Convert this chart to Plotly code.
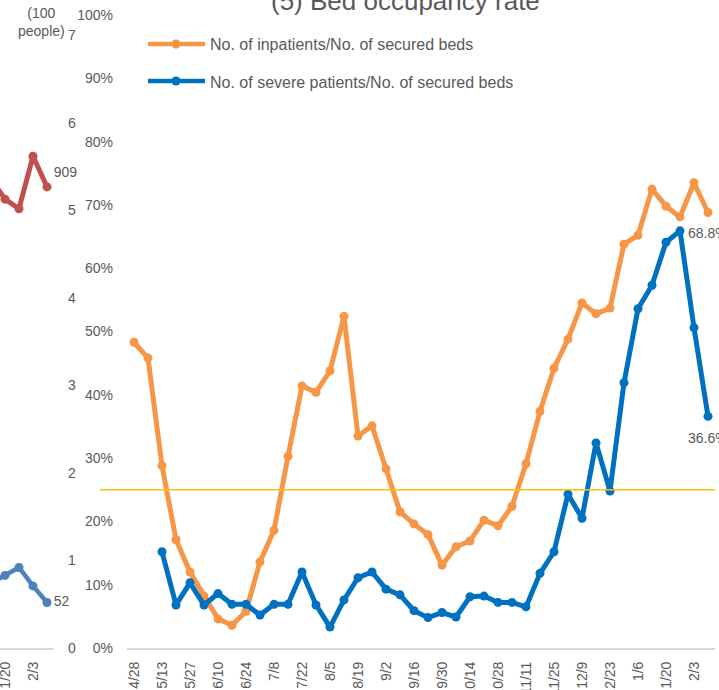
import plotly.graph_objects as go

# ---------------- data ----------------
dates = ["4/28", "5/6", "5/13", "5/20", "5/27", "6/3", "6/10", "6/17", "6/24", "7/1",
         "7/8", "7/15", "7/22", "7/29", "8/5", "8/12", "8/19", "8/26", "9/2", "9/9",
         "9/16", "9/23", "9/30", "10/7", "10/14", "10/21", "10/28", "11/4", "11/11", "11/18",
         "11/25", "12/2", "12/9", "12/16", "12/23", "12/30", "1/6", "1/13", "1/20", "1/27",
         "2/3", "2/10"]

# (5) Bed occupancy rate, %
inpatients_rate = [48.3, 45.8, 28.8, 17.1, 12.0, 8.2, 4.6, 3.6, 5.8, 13.6,
                   18.6, 30.3, 41.4, 40.4, 43.8, 52.4, 33.5, 35.1, 28.3, 21.5,
                   19.6, 17.9, 13.1, 16.0, 16.9, 20.2, 19.3, 22.4, 29.1, 37.4,
                   44.2, 48.8, 54.5, 52.8, 53.7, 63.8, 65.2, 72.5, 69.8, 68.1,
                   73.5, 68.8]
severe_rate = [None, None, 15.2, 6.8, 10.3, 6.8, 8.6, 6.9, 6.9, 5.2,
               6.9, 6.9, 12.0, 6.8, 3.3, 7.6, 11.1, 12.0, 9.3, 8.4,
               5.9, 4.8, 5.6, 4.9, 8.1, 8.2, 7.2, 7.2, 6.5, 11.8,
               15.2, 24.3, 20.5, 32.4, 24.8, 41.9, 53.6, 57.3, 64.1, 65.9,
               50.6, 36.6]
threshold_rate = 25.0

# partial neighbouring chart (100 people) - only the tail is visible
left_red = [None] * 37 + [5.36, 5.13, 5.02, 5.62, 5.27]
left_blue = [None] * 37 + [0.74, 0.83, 0.92, 0.71, 0.52]
left_red_label = "909"
left_blue_label = "52"

y_ticks = list(range(0, 101, 10))
y2_ticks = list(range(0, 8))

legend_names = ["No. of inpatients/No. of secured beds",
                "No. of severe patients/No. of secured beds"]
title_text = "(5) Bed occupancy rate"
unit_text = "(100<br>people)"

# ---------------- style ----------------
W, H = 719, 690
FONT = "Liberation Sans, Arial, sans-serif"
GREY = "#595959"
ORANGE = "#F79646"
BLUE = "#0070C0"
RED = "#C0504D"
SBLUE = "#4F81BD"
AXIS = "#D9D9D9"


def px_x(p):
    return p / W


def px_y(p):
    return 1 - p / H


fig = go.Figure()

fig.add_trace(go.Scatter(
    x=dates, y=inpatients_rate, mode="lines+markers",
    line=dict(color=ORANGE, width=5), marker=dict(color=ORANGE, size=9),
    cliponaxis=False, showlegend=False, xaxis="x", yaxis="y"))

fig.add_trace(go.Scatter(
    x=dates, y=severe_rate, mode="lines+markers",
    line=dict(color=BLUE, width=5), marker=dict(color=BLUE, size=9),
    cliponaxis=False, showlegend=False, xaxis="x", yaxis="y"))

fig.add_trace(go.Scatter(
    x=dates, y=left_red, mode="lines+markers+text",
    line=dict(color=RED, width=5), marker=dict(color=RED, size=9),
    text=[None] * (len(dates) - 1) + [left_red_label], textposition="top right",
    textfont=dict(family=FONT, size=14, color=GREY),
    cliponaxis=False, showlegend=False, xaxis="x2", yaxis="y2"))

fig.add_trace(go.Scatter(
    x=dates, y=left_blue, mode="lines+markers+text",
    line=dict(color=SBLUE, width=4.5), marker=dict(color=SBLUE, size=9),
    text=[None] * (len(dates) - 1) + [left_blue_label], textposition="middle right",
    textfont=dict(family=FONT, size=14, color=GREY),
    cliponaxis=False, showlegend=False, xaxis="x2", yaxis="y2"))

shapes = [
    dict(type="line", xref="paper", yref="y", x0=px_x(100), x1=px_x(715),
         y0=threshold_rate, y1=threshold_rate, line=dict(color="#FFC000", width=1.5)),
]
annotations = [
    dict(text=title_text, xref="paper", yref="paper", x=px_x(405), y=px_y(1),
         xanchor="center", yanchor="middle", showarrow=False,
         font=dict(family=FONT, size=26, color=GREY)),
    dict(text=unit_text, xref="paper", yref="paper", x=px_x(41), y=px_y(22),
         xanchor="center", yanchor="middle", showarrow=False,
         font=dict(family=FONT, size=14, color=GREY)),
    # data labels below the last points
    dict(text=f"{inpatients_rate[-1]}%", xref="x", yref="y", x=dates[-1], y=inpatients_rate[-1],
         xanchor="center", yanchor="middle", yshift=-20, showarrow=False,
         font=dict(family=FONT, size=14, color=GREY)),
    dict(text=f"{severe_rate[-1]}%", xref="x", yref="y", x=dates[-1], y=severe_rate[-1],
         xanchor="center", yanchor="middle", yshift=-22, showarrow=False,
         font=dict(family=FONT, size=14, color=GREY)),
]
for name, color, ypix in [(legend_names[0], ORANGE, 44), (legend_names[1], BLUE, 81)]:
    shapes.append(dict(type="line", xref="paper", yref="paper",
                       x0=px_x(148), x1=px_x(205), y0=px_y(ypix), y1=px_y(ypix),
                       line=dict(color=color, width=4.5)))
    shapes.append(dict(type="circle", xref="paper", yref="paper",
                       x0=px_x(171.5), x1=px_x(180.5), y0=px_y(ypix + 4.5), y1=px_y(ypix - 4.5),
                       fillcolor=color, line=dict(color=color, width=0)))
    annotations.append(dict(text=name, xref="paper", yref="paper", x=px_x(208), y=px_y(ypix + 1),
                            xanchor="left", yanchor="middle", showarrow=False,
                            font=dict(family=FONT, size=16, color=GREY)))

tickfont = dict(family=FONT, size=14, color=GREY)

fig.update_layout(
    width=W, height=H, margin=dict(l=0, r=0, t=0, b=0),
    paper_bgcolor="white", plot_bgcolor="white",
    font=dict(family=FONT, color=GREY),
    xaxis=dict(domain=[px_x(127), px_x(715)], anchor="y", type="category",
               categoryorder="array", categoryarray=dates, range=[-0.5, len(dates) - 0.5],
               tickmode="array", tickvals=dates[::2], ticktext=dates[::2], tickangle=-90,
               showline=True, linecolor=AXIS, linewidth=2, showgrid=False, zeroline=False,
               ticks="", ticklabelstandoff=6, tickfont=tickfont, automargin=False),
    yaxis=dict(domain=[px_y(648), px_y(15)], anchor="x", range=[0, 100],
               tickmode="array", tickvals=y_ticks, ticktext=[f"{v}%" for v in y_ticks],
               showline=False, showgrid=False, zeroline=False, ticks="",
               ticklabelstandoff=13, tickfont=tickfont, automargin=False),
    xaxis2=dict(domain=[0, px_x(54)], anchor="y2", type="category",
                categoryorder="array", categoryarray=dates,
                range=[len(dates) - 1 - 47 / 14, len(dates) - 1 + 7 / 14],
                tickmode="array", tickvals=[dates[38], dates[40]], ticktext=[dates[38], dates[40]],
                tickangle=-90, showline=True, linecolor=AXIS, linewidth=2, showgrid=False,
                zeroline=False, ticks="", ticklabelstandoff=6, tickfont=tickfont, automargin=False),
    yaxis2=dict(domain=[px_y(648), px_y(35.5)], anchor="x2", side="right", range=[0, 7],
                tickmode="array", tickvals=y2_ticks, showline=False, showgrid=False,
                zeroline=False, ticks="", ticklabelstandoff=13, tickfont=tickfont,
                automargin=False),
    shapes=shapes, annotations=annotations,
)

fig.write_html("out.html", config={"displayModeBar": False},
               post_script="document.body.style.margin='0';document.body.style.overflow='hidden';")
